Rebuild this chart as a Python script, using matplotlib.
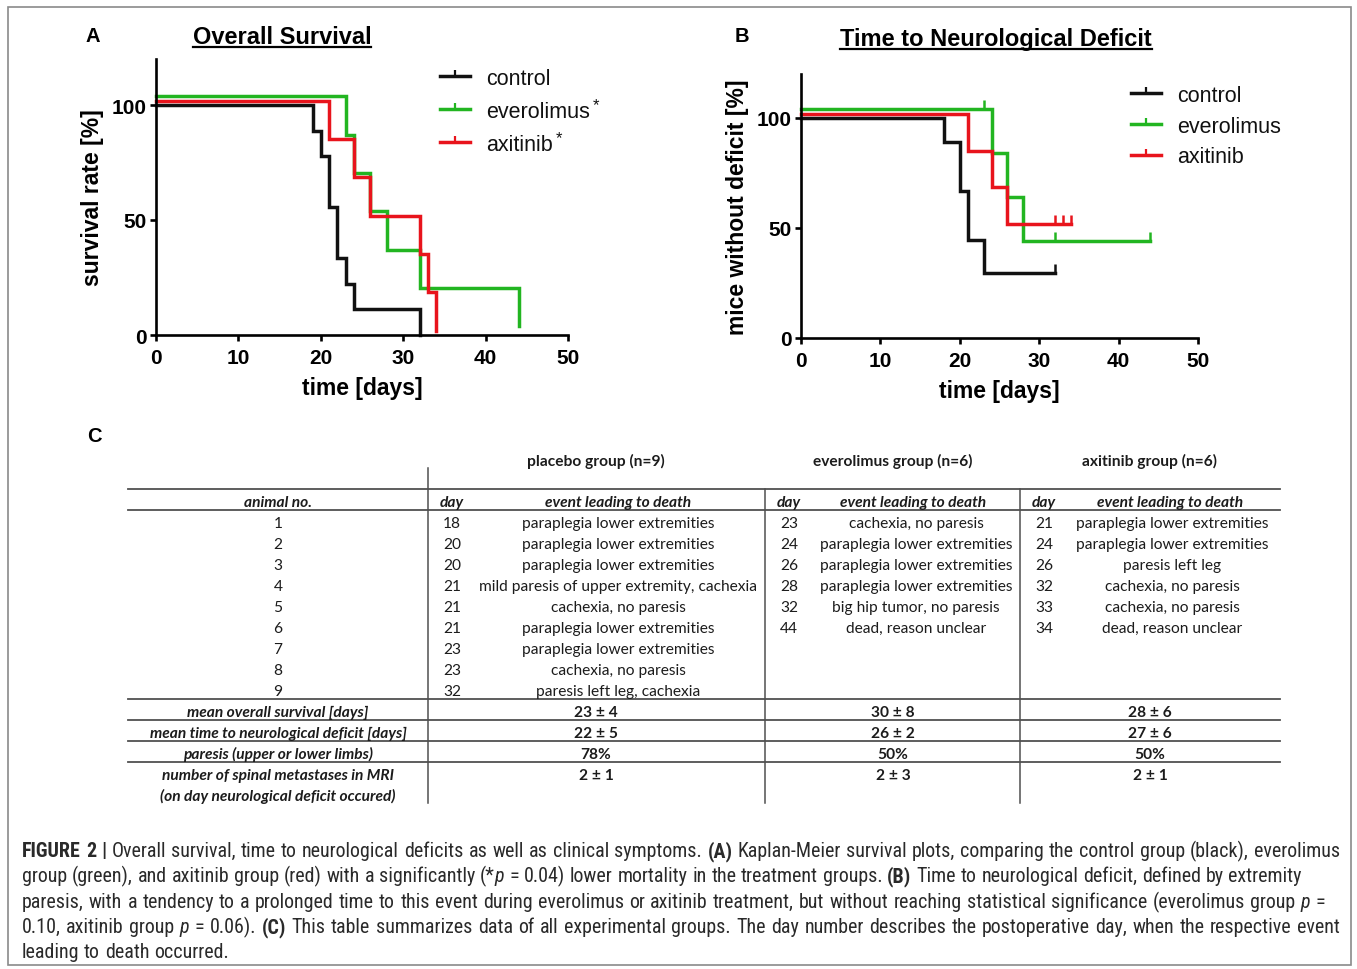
import matplotlib
matplotlib.use('Agg')
import matplotlib.pyplot as plt
from matplotlib.lines import Line2D
from matplotlib.path import Path
from matplotlib.patches import Rectangle
from matplotlib import font_manager

# ---------------- data ----------------
# (A) overall survival (Kaplan-Meier step values, %)
os_control_t = [0, 19, 20, 21, 22, 23, 24, 32]
os_control_s = [100, 88.9, 77.8, 55.6, 33.3, 22.2, 11.1, 0]
os_evero_t = [0, 23, 24, 26, 28, 32, 44]
os_evero_s = [100, 83.3, 66.7, 50, 33.3, 16.7, 0]
os_axi_t = [0, 21, 24, 26, 32, 33, 34]
os_axi_s = [100, 83.3, 66.7, 50, 33.3, 16.7, 0]

# (B) time to neurological deficit
nd_control_t = [0, 18, 20, 21, 23, 32]
nd_control_s = [100, 88.9, 66.7, 44.4, 29.6, 29.6]
nd_control_cens = [32]
nd_evero_t = [0, 24, 26, 28, 44]
nd_evero_s = [100, 80, 60, 40, 40]
nd_evero_cens = [23, 32, 44]
nd_axi_t = [0, 21, 24, 26, 34]
nd_axi_s = [100, 83.3, 66.7, 50, 50]
nd_axi_cens = [32, 33, 34]

series_names = ['control', 'everolimus', 'axitinib']

# (C) table
animal_no = ['1', '2', '3', '4', '5', '6', '7', '8', '9']
placebo_days = [18, 20, 20, 21, 21, 21, 23, 23, 32]
placebo_events = ['paraplegia lower extremities', 'paraplegia lower extremities',
                  'paraplegia lower extremities', 'mild paresis of upper extremity, cachexia',
                  'cachexia, no paresis', 'paraplegia lower extremities',
                  'paraplegia lower extremities', 'cachexia, no paresis',
                  'paresis left leg, cachexia']
evero_days = [23, 24, 26, 28, 32, 44]
evero_events = ['cachexia, no paresis', 'paraplegia lower extremities',
                'paraplegia lower extremities', 'paraplegia lower extremities',
                'big hip tumor, no paresis', 'dead, reason unclear']
axi_days = [21, 24, 26, 32, 33, 34]
axi_events = ['paraplegia lower extremities', 'paraplegia lower extremities',
              'paresis left leg', 'cachexia, no paresis', 'cachexia, no paresis',
              'dead, reason unclear']
group_headers = ['placebo group (n=9)', 'everolimus group (n=6)', 'axitinib group (n=6)']
summary_labels = ['mean overall survival [days]', 'mean time to neurological deficit [days]',
                  'paresis (upper or lower limbs)', 'number of spinal metastases in MRI',
                  '(on day neurological deficit occured)']
placebo_summary = ['23 ± 4', '22 ± 5', '78%', '2 ± 1']
evero_summary = ['30 ± 8', '26 ± 2', '50%', '2 ± 3']
axi_summary = ['28 ± 6', '27 ± 6', '50%', '2 ± 1']

caption_lines = [
    [("FIGURE 2 |", 'b'), (" Overall survival, time to neurological deficits as well as clinical symptoms. ", 'r'),
     ("(A)", 'b'), (" Kaplan-Meier survival plots, comparing the control group (black), everolimus", 'r')],
    [("group (green), and axitinib group (red) with a significantly (*", 'r'), ("p", 'i'),
     (" = 0.04) lower mortality in the treatment groups. ", 'r'), ("(B)", 'b'),
     (" Time to neurological deficit, defined by extremity", 'r')],
    [("paresis, with a tendency to a prolonged time to this event during everolimus or axitinib treatment, "
      "but without reaching statistical significance (everolimus group ", 'r'), ("p", 'i'), (" =", 'r')],
    [("0.10, axitinib group ", 'r'), ("p", 'i'), (" = 0.06). ", 'r'), ("(C)", 'b'),
     (" This table summarizes data of all experimental groups. The day number describes the "
      "postoperative day, when the respective event", 'r')],
    [("leading to death occurred.", 'r')],
]

# ---------------- style ----------------
W, H = 1357, 970
plt.rcParams['font.family'] = ['Liberation Sans', 'DejaVu Sans']
fig = plt.figure(figsize=(W / 100, H / 100), dpi=100)
fig.patch.set_facecolor('white')
r = fig.canvas.get_renderer()
installed = {f.name for f in font_manager.fontManager.ttflist}


def pick(cands):
    for c in cands:
        if c in installed:
            return c
    return 'DejaVu Sans'


def fx(x):
    return x / W


def fy(y):
    return 1 - y / H


COLORS = {'control': '#111111', 'everolimus': '#22b521', 'axitinib': '#e8141c'}
TICK = Path([(0, 0), (0, 1)], [Path.MOVETO, Path.LINETO])
LW = 2.5


def surv_at(t, times, surv):
    val = surv[0]
    for ti, si in zip(times, surv):
        if ti <= t:
            val = si
    return val


def setup(ax, ylabel):
    ax.set_xlim(0, 50)
    ax.set_ylim(0, 120)
    for s in ['top', 'right']:
        ax.spines[s].set_visible(False)
    for s in ['left', 'bottom']:
        ax.spines[s].set_linewidth(1.9)
    ax.set_xticks(range(0, 51, 10))
    ax.set_yticks([0, 50, 100])
    ax.tick_params(direction='out', length=4.5, width=1.9, labelsize=15, pad=2.5)
    ax.tick_params(axis='x', pad=5)
    for lab in ax.get_xticklabels() + ax.get_yticklabels():
        lab.set_fontweight('bold')
    ax.set_xlabel('time [days]', fontsize=16.5, fontweight='bold', labelpad=6)
    ax.set_ylabel(ylabel, fontsize=16.5, fontweight='bold', labelpad=5)
    ax.set_facecolor('none')


def legend(ax, x, y, spacing, stars):
    handles = [Line2D([0], [0], color=COLORS[n], lw=LW, marker=TICK, markersize=9,
                      markeredgewidth=1.6, markerfacecolor='none', markeredgecolor=COLORS[n])
               for n in series_names]
    leg = ax.legend(handles, series_names, loc='upper left', bbox_to_anchor=(fx(x), fy(y)),
                    bbox_transform=fig.transFigure, frameon=False, fontsize=15.5,
                    handlelength=1.4, handletextpad=0.75, labelspacing=spacing,
                    borderpad=0, borderaxespad=0, numpoints=1)
    for t in leg.get_texts():
        t.set_color('#111111')
    if stars:
        fig.canvas.draw()
        for t in leg.get_texts()[1:]:
            bb = t.get_window_extent(r)
            fig.text(bb.x1 / W + 3 / W, bb.y1 / H - 4 / H, '*', fontsize=12,
                     ha='left', va='center', color='#111111')


def title(x, y, s):
    t = fig.text(fx(x), fy(y), s, ha='center', va='baseline', fontsize=17, fontweight='bold')
    bb = t.get_window_extent(r)
    fig.add_artist(Line2D([bb.x0 / W, bb.x1 / W], [fy(y + 3.5)] * 2, color='black', lw=1.6))


# ---------------- panel A ----------------
axA = fig.add_axes([fx(156), fy(336), (568 - 156) / W, (336 - 60) / H])
offsA = {'control': 0, 'everolimus': 3.7, 'axitinib': 1.8}
for name, t, s in zip(series_names, [os_control_t, os_evero_t, os_axi_t],
                      [os_control_s, os_evero_s, os_axi_s]):
    axA.step(t, [v + offsA[name] for v in s], where='post', color=COLORS[name], lw=LW,
             solid_joinstyle='miter', clip_on=False)
setup(axA, 'survival rate [%]')
legend(axA, 440, 69, 0.55, True)
title(282, 44, 'Overall Survival')
fig.text(fx(93), fy(37), 'A', fontsize=14.5, fontweight='bold', ha='center', va='center')

# ---------------- panel B ----------------
axB = fig.add_axes([fx(801), fy(339), (1198 - 801) / W, (339 - 75) / H])
offsB = {'control': 0, 'everolimus': 4.0, 'axitinib': 1.8}
for name, t, s, c in zip(series_names, [nd_control_t, nd_evero_t, nd_axi_t],
                         [nd_control_s, nd_evero_s, nd_axi_s],
                         [nd_control_cens, nd_evero_cens, nd_axi_cens]):
    axB.step(t, [v + offsB[name] for v in s], where='post', color=COLORS[name], lw=LW,
             solid_joinstyle='miter', clip_on=False)
    axB.plot(c, [surv_at(ci, t, s) + offsB[name] for ci in c], linestyle='none',
             marker=TICK, markersize=13, markeredgewidth=1.8, markerfacecolor='none',
             markeredgecolor=COLORS[name], clip_on=False)
setup(axB, 'mice without deficit [%]')
legend(axB, 1131, 86, 0.45, False)
title(996, 46, 'Time to Neurological Deficit')
fig.text(fx(742), fy(37), 'B', fontsize=14.5, fontweight='bold', ha='center', va='center')

# ---------------- panel C: table ----------------
fig.text(fx(94), fy(437), 'C', fontsize=14.5, fontweight='bold', ha='center', va='center')
TF = [pick(['Lato', 'Noto Sans']), 'DejaVu Sans']


def twidth(s, **kw):
    t = fig.text(0, 0, s, **kw)
    w = t.get_window_extent(r).width
    t.remove()
    return w


fs_t = 10 * 192 / twidth('paraplegia lower extremities', fontsize=10, family=TF)
base_off = 0.36 * fs_t * 100 / 72
TC = '#1c1c1c'


def ttext(x, y, s, **kw):
    fig.text(fx(x), fy(y + base_off), s, ha='center', va='baseline', family=TF,
             fontsize=fs_t, color=TC, **kw)


LC = '#505050'


def hline(y, x0=128, x1=1280):
    fig.add_artist(Line2D([fx(x0), fx(x1)], [fy(y)] * 2, color=LC, lw=1.3))


def vline(x, y0, y1):
    fig.add_artist(Line2D([fx(x)] * 2, [fy(y0), fy(y1)], color=LC, lw=1.1))


for x, s in zip([596, 893, 1150], group_headers):
    ttext(x, 460, s, fontweight='bold')

hdr_y = 501
ttext(278, hdr_y, 'animal no.', fontweight='bold', fontstyle='italic')
for xd, xe in [(452, 618), (789, 913), (1044, 1170)]:
    ttext(xd, hdr_y, 'day', fontweight='bold', fontstyle='italic')
    ttext(xe, hdr_y, 'event leading to death', fontweight='bold', fontstyle='italic')

row0, dy = 522, 21
for i, a in enumerate(animal_no):
    ttext(278, row0 + i * dy, a)
for i, (d, e) in enumerate(zip(placebo_days, placebo_events)):
    ttext(452, row0 + i * dy, str(d))
    ttext(618, row0 + i * dy, e)
for i, (d, e) in enumerate(zip(evero_days, evero_events)):
    ttext(789, row0 + i * dy, str(d))
    ttext(916, row0 + i * dy, e)
for i, (d, e) in enumerate(zip(axi_days, axi_events)):
    ttext(1044, row0 + i * dy, str(d))
    ttext(1172, row0 + i * dy, e)

sum0 = 711
for i, lab in enumerate(summary_labels):
    ttext(278, sum0 + i * dy, lab, fontweight='bold', fontstyle='italic')
for col_x, vals in zip([596, 893, 1150], [placebo_summary, evero_summary, axi_summary]):
    for i, v in enumerate(vals):
        ttext(col_x, sum0 + i * dy, v, fontweight='bold')

for y in [490, 511, 700, 721, 742, 763]:
    hline(y)
vline(428, 469, 804)
vline(765, 490, 804)
vline(1020, 490, 804)

# ---------------- caption ----------------
CF = [pick(['Roboto Condensed', 'Liberation Sans Narrow', 'Roboto']), 'DejaVu Sans']
CC = '#2a2a2a'
STY = {'r': {}, 'b': {'fontweight': 'bold'}, 'i': {'fontstyle': 'italic'}}
targets = [1340 - 22, 1302 - 22, 1325 - 22, 1340 - 22, None]
baselines = [857, 882, 908, 933, 958]


def words_of(line):
    words = [[]]
    for text, st in line:
        parts = text.split(' ')
        for i, p in enumerate(parts):
            if i > 0:
                words.append([])
            if p:
                words[-1].append((p, st))
    return [w for w in words if w]


def word_w(word, fs):
    return sum(twidth(p, fontsize=fs, family=CF, **STY[st]) for p, st in word)


fs0 = 12
sp0 = twidth('a a', fontsize=fs0, family=CF) - twidth('aa', fontsize=fs0, family=CF)
ratio = 0
for line, tw in zip(caption_lines, targets):
    if tw is None:
        continue
    ws = words_of(line)
    nat = sum(word_w(w, fs0) for w in ws) + sp0 * (len(ws) - 1)
    ratio = max(ratio, nat / tw)
fs_c = min(fs0 / ratio * 0.995, 15.0)
sp = twidth('a a', fontsize=fs_c, family=CF) - twidth('aa', fontsize=fs_c, family=CF)

for line, tw, yb in zip(caption_lines, targets, baselines):
    ws = words_of(line)
    widths = [word_w(w, fs_c) for w in ws]
    gap = sp if tw is None else (tw - sum(widths)) / (len(ws) - 1)
    x = 22.0
    for w, wd in zip(ws, widths):
        xx = x
        for p, st in w:
            t = fig.text(fx(xx), fy(yb), p, ha='left', va='baseline', fontsize=fs_c,
                         family=CF, color=CC, **STY[st])
            xx += t.get_window_extent(r).width
        x += wd + gap

# frame
fig.add_artist(Rectangle((fx(8), fy(966)), (1351 - 8) / W, (966 - 8) / H,
                         transform=fig.transFigure, fill=False, edgecolor='#8a8a8a', lw=1.2))

fig.savefig('out.png', dpi=100, facecolor='white')
